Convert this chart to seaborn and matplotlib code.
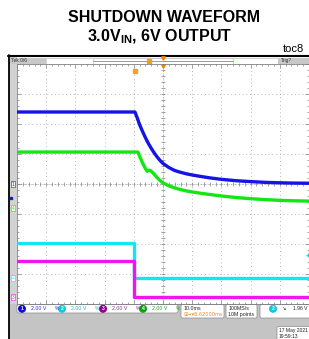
import numpy as np
import pandas as pd
import matplotlib
matplotlib.use('Agg')
import matplotlib.pyplot as plt
import seaborn as sns
from matplotlib.patches import Rectangle, FancyBboxPatch, Circle

# Scope traces: time in ms (10 ms/div), volts (2 V/div)
t_vout = [-50, -9.6, -9.0, -8.0, -7.0, -6.0, -5.0, -4.0, -3.0, -2.0, -1.0, 0,
          2, 4, 6, 8, 10, 13, 16, 20, 25, 30, 35, 40, 45, 50]
v_vout = [4.8, 4.8, 4.5, 3.95, 3.5, 3.08, 2.7, 2.37, 2.07, 1.8, 1.57, 1.37,
          1.1, 0.9, 0.78, 0.68, 0.6, 0.5, 0.41, 0.31, 0.22, 0.16, 0.11, 0.08, 0.06, 0.05]

t_bias = [-50, -8.6, -8.0, -7.0, -6.0, -5.4, -5.0, -4.5, -4.0, -3.0, -2.0, -1.0, 0,
          2, 4, 6, 8, 10, 13, 16, 20, 25, 30, 35, 40, 45, 50]
v_bias = [3.73, 3.73, 3.45, 3.0, 2.62, 2.45, 2.5, 2.52, 2.45, 2.25, 2.02, 1.83, 1.67,
          1.48, 1.34, 1.23, 1.14, 1.07, 0.98, 0.9, 0.8, 0.7, 0.62, 0.56, 0.51, 0.48, 0.46]

t_enable = [-50, -9.8, -9.8, 50]
v_enable = [2.33, 2.33, 0.0, 0.0]

t_reset = [-50, -9.8, -9.8, 50]
v_reset = [2.4, 2.4, 0.0, 0.0]

channels = ['VOUT', 'BIAS', 'ENABLE', 'RESET']
ch_numbers = ['1', '4', '2', '3']
ch_offsets = [0.0, -0.8, -3.13, -3.77]   # ground marker position, divisions
volts_per_div = 2.0

colors = {'VOUT': '#1414e6', 'BIAS': '#14e614', 'ENABLE': '#14e6f0', 'RESET': '#f014f0'}

rows = []
for name, t, v, off in zip(channels, [t_vout, t_bias, t_enable, t_reset],
                           [v_vout, v_bias, v_enable, v_reset], ch_offsets):
    for ti, vi in zip(t, v):
        rows.append({'t': ti, 'pos': off + vi / volts_per_div, 'channel': name})
df = pd.DataFrame(rows)

sns.set_style('white')
plt.rcParams['font.family'] = ['Liberation Sans', 'DejaVu Sans']

W, H = 309, 339
fig = plt.figure(figsize=(W / 100, H / 100), dpi=100)

# background axes in pixel coordinates
bg = fig.add_axes([0, 0, 1, 1])
bg.set_xlim(0, W)
bg.set_ylim(H, 0)
bg.axis('off')

# titles
bg.text(164, 17, 'SHUTDOWN WAVEFORM', ha='center', va='center', fontsize=11.5,
        fontweight='bold', color='black')
bg.text(160, 37, r'3.0V$_{\mathregular{IN}}$, 6V OUTPUT', ha='center', va='center',
        fontsize=11.5, fontweight='bold', color='black')
bg.text(283, 49, 'toc8', ha='left', va='center', fontsize=8, color='black')

# scope frame
bg.add_patch(Rectangle((9, 57), 8, H - 57, color='#d2d2d2', lw=0))
bg.plot([8.5, 8.5], [55, H], color='black', lw=1.3)
bg.plot([8, W], [56, 56], color='black', lw=1.5)

# top status bar
bg.add_patch(Rectangle((10, 57.5), 36, 6.5, color='#c8c8c8', lw=0))
bg.add_patch(Rectangle((46, 57.5), 232, 6.5, facecolor='white', edgecolor='#b0b0b0', lw=0.4))
bg.add_patch(Rectangle((93, 57.5), 140, 6.5, facecolor='white', edgecolor='#b0b0b0', lw=0.4))
bg.plot([93, 233], [60.5, 60.5], color='#c080c8', lw=0.7)
bg.add_patch(Rectangle((278, 57.5), 31, 6.5, color='#c8c8c8', lw=0))
bg.text(11, 60.8, 'Tek 0/6', fontsize=3.5, va='center', color='#303030')
bg.text(281, 60.8, 'Trig?', fontsize=3.5, va='center', color='#303030')
bg.plot([149], [60.5], marker='s', ms=2.2, color='#f0a020', mec='#f0a020')
bg.plot([163], [57.5], marker='v', ms=2.5, color='#f08000')

# main scope screen
ax = fig.add_axes([17 / W, (H - 304) / H, 292 / W, 240 / H])
ax.set_xlim(-50, 50)
ax.set_ylim(-4, 4)
ax.set_facecolor('white')

grid_kw = dict(color='#a0a0a0', lw=0.6, linestyle=(0, (1, 3.5)), zorder=0)
for gx in range(-40, 50, 10):
    ax.axvline(gx, **grid_kw)
for gy in range(-3, 4):
    ax.axhline(gy, **grid_kw)
ax.axvline(0, color='#9a9a9a', lw=0.5, linestyle=(0, (1, 1.5)), zorder=0)
ax.axhline(0, color='#9a9a9a', lw=0.5, linestyle=(0, (1, 1.5)), zorder=0)
tx = np.arange(-50, 50.1, 2)
ty = np.arange(-4, 4.01, 0.2)
ax.plot(tx, np.zeros_like(tx), ls='none', marker='|', ms=2.5, mew=0.5, color='#808080', zorder=0)
ax.plot(np.zeros_like(ty), ty, ls='none', marker='_', ms=2.5, mew=0.5, color='#808080', zorder=0)

ax.set_xticks(np.arange(-50, 51, 10))
ax.set_yticks(np.arange(-4, 5, 1))
ax.set_xticks(tx, minor=True)
ax.set_yticks(ty, minor=True)
ax.tick_params(which='both', direction='in', top=True, right=True, bottom=True, left=True,
               labelbottom=False, labelleft=False, color='#808080', width=0.5)
ax.tick_params(which='major', length=3)
ax.tick_params(which='minor', length=1.5)
for s in ax.spines.values():
    s.set_color('#808080')
    s.set_linewidth(0.6)

sns.lineplot(data=df, x='t', y='pos', hue='channel', palette=colors, estimator=None,
             sort=False, lw=2.4, legend=False, ax=ax, zorder=3)
ax.set_xlabel('')
ax.set_ylabel('')

# trigger position and level markers
ax.plot([-9.6], [3.78], marker='s', ms=3, color='#f0a030', clip_on=False)
ax.plot([0], [3.93], marker='v', ms=2.5, color='#f08000', clip_on=False)
ax.plot([49.5], [-2.37], marker='+', ms=3, mew=0.7, color='#14d0e0', clip_on=False)

# channel ground markers and names
for name, num, off in zip(channels, ch_numbers, ch_offsets):
    ypx = 184 - off * 30
    bg.text(13, ypx, num, fontsize=3.5, ha='center', va='center', color=colors[name],
            bbox=dict(boxstyle='square,pad=0.15', fc='white', ec=colors[name], lw=0.4))
    bg.text(18.5, ypx, name, fontsize=4, ha='left', va='center', color='#202020')
bg.plot([10.5], [198], marker='s', ms=1.5, color='#2020a0')

# bottom readout area
bg.add_patch(Rectangle((10, 303.5), W - 10, H - 303.5, color='#c4c4c4', lw=0))
bg.add_patch(FancyBboxPatch((17, 304.5), 161, 8.5, boxstyle='round,pad=0,rounding_size=2',
                            fc='white', ec='#8a8a8a', lw=0.5))
ch_read = [('1', 22, '#1010d0', '#3030d0'), ('2', 62, '#10c8e0', '#20b8d0'),
           ('3', 103, '#900090', '#9030a0'), ('4', 143, '#10a010', '#20a020')]
for num, xc, cc, tc in ch_read:
    bg.add_patch(Circle((xc, 308.8), 3.3, color=cc))
    bg.text(xc, 309, num, fontsize=3.5, color='white', ha='center', va='center', fontweight='bold')
    bg.text(xc + 9, 309, '2.00 V', fontsize=3.8, color=tc, ha='left', va='center')
    bg.text(xc + 33, 309, '%', fontsize=3.5, color=tc, ha='left', va='center')

bg.add_patch(FancyBboxPatch((181, 304.5), 43, 13.5, boxstyle='round,pad=0,rounding_size=1.5',
                            fc='white', ec='#8a8a8a', lw=0.5))
bg.text(184, 308.5, '10.0ms', fontsize=3.8, ha='left', va='center', color='#202020')
bg.text(184, 314.5, '\u229e\u2192\u25be8.62000ms', fontsize=3.6, ha='left', va='center',
        color='#f08c20', family=['DejaVu Sans'])
bg.add_patch(FancyBboxPatch((226, 304.5), 31, 13.5, boxstyle='round,pad=0,rounding_size=1.5',
                            fc='white', ec='#8a8a8a', lw=0.5))
bg.text(228.5, 308.5, '100MS/s', fontsize=3.8, ha='left', va='center', color='#202020')
bg.text(228.5, 314.5, '10M points', fontsize=3.8, ha='left', va='center', color='#202020')
bg.add_patch(FancyBboxPatch((260, 304.5), 52, 13.5, boxstyle='round,pad=0,rounding_size=1.5',
                            fc='white', ec='#8a8a8a', lw=0.5))
bg.add_patch(Circle((273, 308.8), 3.3, color='#10c8e0'))
bg.text(273, 309, '2', fontsize=3.5, color='white', ha='center', va='center', fontweight='bold')
bg.text(281, 309, '\u2198', fontsize=3.8, ha='left', va='center', color='#202020',
        family=['DejaVu Sans'])
bg.text(293, 309, '1.96 V', fontsize=3.6, ha='left', va='center', color='#202020')

bg.add_patch(FancyBboxPatch((277, 326.5), 35, 14, boxstyle='round,pad=0,rounding_size=1.5',
                            fc='white', ec='#8a8a8a', lw=0.5))
bg.text(279, 330.5, '17 May 2021', fontsize=3.6, ha='left', va='center', color='#202020')
bg.text(279, 336.5, '19:59:13', fontsize=3.6, ha='left', va='center', color='#202020')

fig.savefig('out.png', dpi=100)
